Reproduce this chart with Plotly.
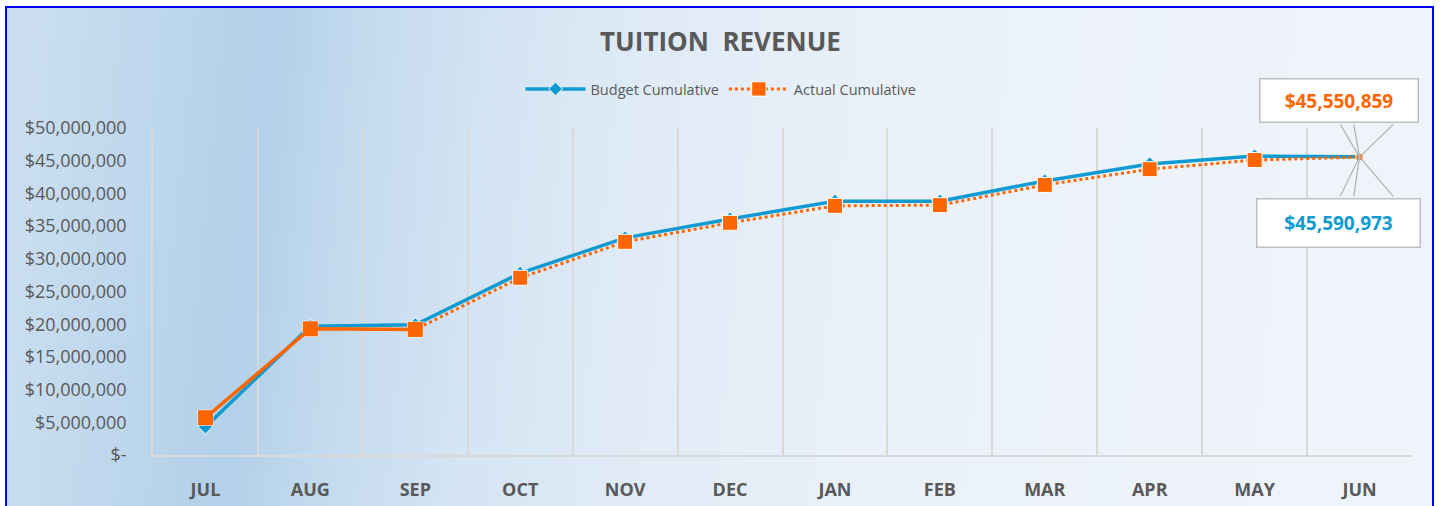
import base64
import struct
import zlib

import numpy as np
import plotly.graph_objects as go

# ---- data ----
months = ["JUL", "AUG", "SEP", "OCT", "NOV", "DEC", "JAN", "FEB", "MAR", "APR", "MAY", "JUN"]
budget_cumulative = [4_300_000, 19_700_000, 19_900_000, 27_800_000, 33_200_000, 36_100_000,
                     38_800_000, 38_800_000, 41_900_000, 44_500_000, 45_700_000, 45_590_973]
actual_cumulative = [5_700_000, 19_300_000, 19_200_000, 27_100_000, 32_600_000, 35_500_000,
                     38_100_000, 38_200_000, 41_300_000, 43_700_000, 45_100_000, 45_550_859]
y_ticks = [0, 5_000_000, 10_000_000, 15_000_000, 20_000_000, 25_000_000,
           30_000_000, 35_000_000, 40_000_000, 45_000_000, 50_000_000]

BLUE = "#0f9bd1"
ORANGE = "#ff6600"
GREY_TXT = "#595959"
GRID = "#d9d9d9"
FONT = "Open Sans"

W, H = 1441, 506
M_L, M_R, M_T, M_B = 153, 29, 128, 51
PW, PH = W - M_L - M_R, H - M_T - M_B


def px_to_paper(x, y):
    return (x - M_L) / PW, (H - M_B - y) / PH


def gradient_png(w=360, h=126):
    """Soft diagonal blue gradient, like the Excel chart fill."""
    left = np.array([0xcd, 0xe0, 0xf1], float)
    band = np.array([0xb3, 0xd1, 0xea], float)
    light = np.array([0xf1, 0xf5, 0xfb], float)
    xs = np.linspace(0, W, w)[None, :]
    ys = np.linspace(0, H, h)[:, None]
    d = xs + 0.1 * ys - 270
    t_left = np.clip(-d / 270, 0, 1)[..., None]
    t_right = np.exp(-np.clip(d, 0, None) / 300)[..., None]
    img = np.where(d[..., None] < 0,
                   band + (left - band) * t_left,
                   light + (band - light) * t_right)
    img = np.clip(img, 0, 255).astype(np.uint8)
    raw = b"".join(b"\x00" + img[r].tobytes() for r in range(h))

    def chunk(tag, data):
        c = struct.pack(">I", len(data)) + tag + data
        return c + struct.pack(">I", zlib.crc32(tag + data) & 0xffffffff)

    png = b"\x89PNG\r\n\x1a\n"
    png += chunk(b"IHDR", struct.pack(">IIBBBBB", w, h, 8, 2, 0, 0, 0))
    png += chunk(b"IDAT", zlib.compress(raw, 9))
    png += chunk(b"IEND", b"")
    return "data:image/png;base64," + base64.b64encode(png).decode()


def money(v):
    return "$-" if v == 0 else f"${v:,.0f}"


fig = go.Figure()

fig.add_trace(go.Scatter(
    x=months, y=budget_cumulative, name="Budget Cumulative",
    mode="lines+markers",
    line=dict(color=BLUE, width=3.5),
    marker=dict(symbol="diamond", size=[11] * 11 + [6], color=BLUE, opacity=1),
))
fig.add_trace(go.Scatter(
    x=months, y=actual_cumulative, name="Actual Cumulative",
    mode="lines+markers",
    line=dict(color=ORANGE, width=3, dash="dot"),
    marker=dict(symbol="square", size=[15] * 11 + [7], color=ORANGE, opacity=1),
))
# first months of the actual line are drawn solid in the original
fig.add_trace(go.Scatter(
    x=months[:3], y=actual_cumulative[:3], showlegend=False, hoverinfo="skip",
    mode="lines+markers",
    line=dict(color=ORANGE, width=3.5),
    marker=dict(symbol="square", size=15, color=ORANGE),
))

# callouts for the final values
callouts = [
    (actual_cumulative[-1], ORANGE, -1),
    (budget_cumulative[-1], BLUE, 1),
]
for val, col, side in callouts:
    tail_y = -34 if side < 0 else 41
    for ax in (-20, -6, 35):
        fig.add_annotation(x=months[-1], y=val, text="", showarrow=True,
                           ax=ax, ay=tail_y, arrowhead=0, arrowwidth=1.3,
                           arrowcolor="#b4b4b4")
    fig.add_annotation(
        x=months[-1], y=val, text=f"<b>{money(val)}</b>", showarrow=False,
        xshift=-21, yshift=57 if side < 0 else -66,
        width=155 if side < 0 else 160, height=40 if side < 0 else 45,
        bgcolor="white", bordercolor="#bfbfbf", borderwidth=1.5,
        font=dict(family=FONT, size=19, color=col),
    )

bx0, by0 = px_to_paper(6, 7)
bx1, by1 = px_to_paper(1433, 512)
fig.add_layout_image(
    source=gradient_png(), xref="paper", yref="paper",
    x=bx0, y=by0, sizex=bx1 - bx0, sizey=by0 - by1,
    xanchor="left", yanchor="top", sizing="stretch", layer="below",
)
fig.add_shape(type="rect", xref="paper", yref="paper",
              x0=bx0, y0=by1, x1=bx1, y1=by0,
              line=dict(color="#0000ff", width=2), layer="above")

lx, ly = px_to_paper(721, 89)
fig.update_layout(
    width=W, height=H,
    margin=dict(l=M_L, r=M_R, t=M_T, b=M_B),
    paper_bgcolor="white", plot_bgcolor="rgba(0,0,0,0)",
    font=dict(family=FONT, color=GREY_TXT),
    title=dict(text="<b>TUITION  REVENUE</b>", x=0.5, xref="container",
               y=1 - 42 / H, yref="container", yanchor="middle", xanchor="center",
               font=dict(size=26, color=GREY_TXT, family=FONT)),
    legend=dict(orientation="h", x=lx, y=ly, xanchor="center", yanchor="middle",
                bgcolor="rgba(0,0,0,0)", font=dict(size=14.5, color=GREY_TXT),
                traceorder="normal", itemwidth=60),
    showlegend=True,
)
fig.update_xaxes(
    type="category", range=[-0.5, 11.5], tickson="boundaries",
    showgrid=True, gridcolor=GRID, gridwidth=1.5,
    showline=True, linecolor=GRID, linewidth=1.5, ticks="", zeroline=False,
    tickfont=dict(size=18, color=GREY_TXT, family=FONT), ticklabelstandoff=18,
    tickvals=months, ticktext=[f"<b>{m}</b>" for m in months], automargin=False,
)
fig.update_yaxes(
    range=[0, 50_000_000], tickvals=y_ticks, ticktext=[money(v) for v in y_ticks],
    showgrid=False, zeroline=False, showline=True, linecolor=GRID, linewidth=1.5,
    ticks="", ticklabelstandoff=21, automargin=False,
    tickfont=dict(size=18, color=GREY_TXT, family=FONT),
)

# the page body has a default margin; drop it so the chart fills the window
fig.write_html("out.html", config={"displayModeBar": False},
               post_script="document.body.style.margin='0';")
